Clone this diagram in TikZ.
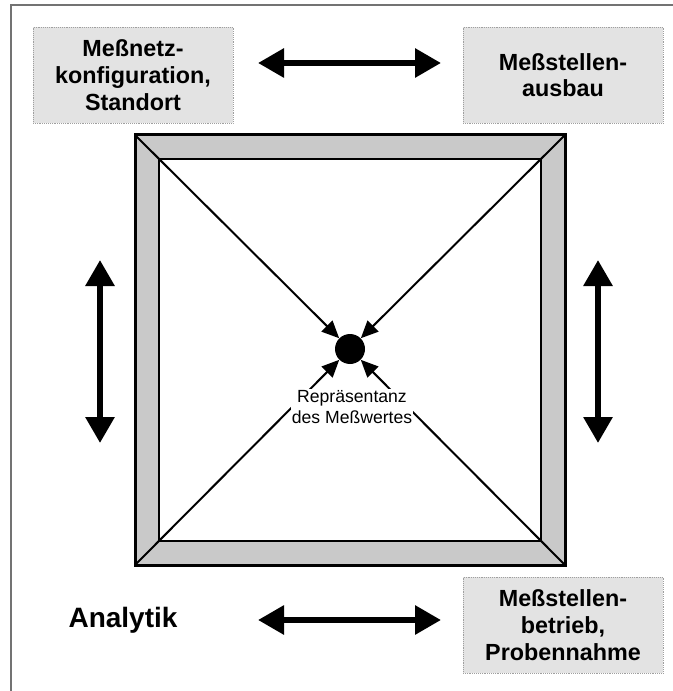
\documentclass[tikz,border=0pt]{standalone}
\usepackage{fontspec}
\setmainfont{Liberation Sans}
\usetikzlibrary{arrows.meta}
\tikzset{BoxStyle/.style={draw=gray!75,densely dotted,fill=gray!22,minimum width=150pt,minimum height=72pt,align=center,font=\bfseries\fontsize{17.5}{20}\selectfont}}
\tikzset{BigArrow/.style={line width=4.5pt,{Triangle[width=21pt,length=19.5pt]}-{Triangle[width=21pt,length=19.5pt]}}}
\tikzset{SmallArrow/.style={line width=1.5pt,-{Triangle[width=11.5pt,length=13pt]}}}
\begin{document}
\begin{tikzpicture}[x=0.75pt,y=-0.75pt]
        \useasboundingbox (0,0) rectangle (673,691);
        \draw[gray!90!black,line width=0.9pt] (11,691) -- (11,5) -- (673,5);
        % Rahmen mit Diagonalen
        \coordinate (TL) at (135,135);
        \coordinate (TR) at (565,135);
        \coordinate (BR) at (565,565);
        \coordinate (BL) at (135,565);
        \fill[gray!42] (TL) rectangle (BR);
        \draw[fill=white,line width=1pt] (159,159) rectangle (541,541);
        \draw[line width=2.25pt] (TL) rectangle (BR);
        \node[circle,fill=black,minimum size=22.5pt,inner sep=0pt] (C) at (350,349) {};
        \draw[SmallArrow] (TL) -- (C);
        \draw[SmallArrow] (TR) -- (C);
        \draw[SmallArrow] (BL) -- (C);
        \draw[SmallArrow] (BR) -- (C);
        \node[fill=white,inner sep=1pt,align=center,font=\fontsize{13.2}{15.5}\selectfont] (R) at (352,407) {Repräsentanz\\des Meßwertes};
        % Kaesten
        \node[BoxStyle] (N) at (133,75) {Meßnetz-\\konfiguration,\\Standort};
        \node[BoxStyle] (A) at (563,75) {Meßstellen-\\ausbau};
        \node[BoxStyle] (B) at (563,625) {Meßstellen-\\betrieb,\\Probennahme};
        \node[font=\bfseries\fontsize{21}{24}\selectfont] (L) at (123,620) {Analytik};
        % Doppelpfeile
        \coordinate (T1) at (258,63);
        \coordinate (T2) at (441,63);
        \coordinate (U1) at (258,620);
        \coordinate (U2) at (441,620);
        \coordinate (V1) at (100,260);
        \coordinate (V2) at (100,443);
        \coordinate (W1) at (598,260);
        \coordinate (W2) at (598,443);
        \draw[BigArrow] (T1) -- (T2);
        \draw[BigArrow] (U1) -- (U2);
        \draw[BigArrow] (V1) -- (V2);
        \draw[BigArrow] (W1) -- (W2);
\end{tikzpicture}
\end{document}
